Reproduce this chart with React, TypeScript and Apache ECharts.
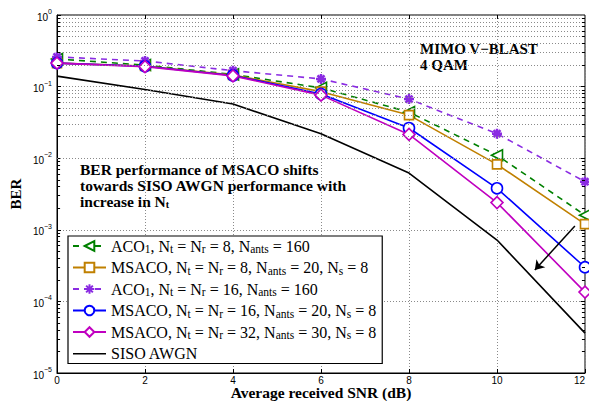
import React, { useEffect, useRef } from "react";
import * as echarts from "echarts";

const snr = [0, 2, 4, 6, 8, 10, 12];
const aco8 = [0.243, 0.2, 0.148, 0.096, 0.044, 0.011, 0.0016];
const msaco8 = [0.213, 0.194, 0.145, 0.085, 0.04, 0.0082, 0.0012];
const aco16 = [0.26, 0.228, 0.167, 0.128, 0.067, 0.022, 0.0047];
const msaco16 = [0.213, 0.192, 0.143, 0.079, 0.0264, 0.0038, 0.0003];
const msaco32 = [0.213, 0.19, 0.141, 0.076, 0.0215, 0.0024, 0.000135];
const siso = [0.14, 0.091, 0.057, 0.022, 0.0062, 0.00072, 0.000036];
const minorFactors = [2, 3, 4, 5, 6, 7, 8, 9];
const decades = [-5, -4, -3, -2, -1];

const names = ["aco8", "msaco8", "aco16", "msaco16", "msaco32", "siso"];
const legendRich: Record<string, string> = {
  aco8: "{t|ACO}{s|1}{t|, N}{s|t}{t| = N}{s|r}{t| = 8, N}{s|ants}{t| = 160}",
  msaco8: "{t|MSACO, N}{s|t}{t| = N}{s|r}{t| = 8, N}{s|ants}{t| = 20, N}{s|s}{t| = 8}",
  aco16: "{t|ACO}{s|1}{t|, N}{s|t}{t| = N}{s|r}{t| = 16, N}{s|ants}{t| = 160}",
  msaco16: "{t|MSACO, N}{s|t}{t| = N}{s|r}{t| = 16, N}{s|ants}{t| = 20, N}{s|s}{t| = 8}",
  msaco32: "{t|MSACO, N}{s|t}{t| = N}{s|r}{t| = 32, N}{s|ants}{t| = 30, N}{s|s}{t| = 8}",
  siso: "{t|SISO AWGN}",
};

const starPath = "path://M0,-10L0,10M-10,0L10,0M-7,-7L7,7M-7,7L7,-7";
const lineIcon = "path://M0,0h0.01v0.01h-0.01zM0,5h40v1.6h-40zM39.99,10.99h0.01v0.01h-0.01z";

export default function App() {
  const ref = useRef<HTMLDivElement>(null);
  useEffect(() => {
    const chart = echarts.init(ref.current!, null, { renderer: "svg" });
    const pairs = (arr: number[]) => snr.map((x, i) => [x, arr[i]]);
    const minorLines: any[] = [];
    const edgeTicks: any[] = [];
    for (const e of decades) {
      for (const f of minorFactors) {
        const v = f * Math.pow(10, e);
        minorLines.push({ yAxis: v });
        edgeTicks.push([{ coord: [0, v] }, { coord: [0.07, v] }]);
        edgeTicks.push([{ coord: [11.93, v] }, { coord: [12, v] }]);
      }
    }
    for (const e of [-4, -3, -2, -1]) {
      const v = Math.pow(10, e);
      edgeTicks.push([{ coord: [11.9, v] }, { coord: [12, v] }]);
    }
    for (const x of [2, 4, 6, 8, 10]) {
      edgeTicks.push([{ coord: [x, 1] }, { coord: [x, 0.88] }]);
    }
    const gridStyle = { color: "#8a8a8a", type: [1, 2] as any, width: 1 };
    const mk = (name: string, data: number[], color: string, dashed: boolean, symbol: string, size: number, extra: any = {}) => ({
      name,
      type: "line",
      data: pairs(data),
      symbol,
      symbolSize: size,
      showSymbol: symbol !== "none",
      lineStyle: { color, width: 1.6, type: dashed ? [6, 5] : "solid" },
      itemStyle: { color: "#fff", borderColor: color, borderWidth: 1.6 },
      z: 3,
      ...extra,
    });
    chart.setOption({
      animation: false,
      grid: {
        left: 57,
        right: 4,
        top: 15,
        bottom: 28,
        show: true,
        borderColor: "#000",
        borderWidth: 1,
        containLabel: false,
        outerBoundsMode: "none",
      },
      xAxis: {
        type: "value",
        min: 0,
        max: 12,
        interval: 2,
        axisLine: { lineStyle: { color: "#000" } },
        axisTick: { inside: true, length: 4, lineStyle: { color: "#000" } },
        axisLabel: { color: "#000", fontFamily: "Liberation Sans", fontSize: 10, margin: 2, alignMaxLabel: "right" },
        splitLine: { show: true, lineStyle: gridStyle },
        name: "Average received SNR (dB)",
        nameLocation: "middle",
        nameGap: 11,
        nameMoveOverlap: false,
        nameTextStyle: { color: "#000", fontFamily: "Liberation Serif", fontWeight: "bold", fontSize: 15.5, lineHeight: 17 },
      },
      yAxis: {
        type: "log",
        logBase: 10,
        min: 1e-5,
        max: 1,
        axisLine: { lineStyle: { color: "#000" } },
        axisTick: { inside: true, length: 4, lineStyle: { color: "#000" } },
        axisLabel: {
          color: "#000",
          margin: 5,
          formatter: (v: number) => {
            const e = Math.round(Math.log10(v));
            return "{b|10}{p|" + (e === 0 ? "0" : "\u2212" + String(-e)) + "}";
          },
          rich: {
            b: { fontFamily: "Liberation Sans", fontSize: 10, lineHeight: 14, verticalAlign: "bottom", color: "#000" },
            p: { fontFamily: "Liberation Sans", fontSize: 7, lineHeight: 7, verticalAlign: "top", color: "#000" },
          },
        },
        splitLine: { show: true, lineStyle: gridStyle },
        name: "BER",
        nameLocation: "middle",
        nameGap: 34,
        nameMoveOverlap: false,
        nameTextStyle: { color: "#000", fontFamily: "Liberation Serif", fontWeight: "bold", fontSize: 15 },
      },
      legend: {
        orient: "vertical",
        left: 68,
        top: 236,
        data: names.map((n) =>
          n === "siso" ? { name: n, icon: lineIcon, itemStyle: { color: "#000", borderWidth: 0 } } : { name: n }
        ),
        backgroundColor: "#fff",
        borderColor: "#000",
        borderWidth: 1.2,
        padding: [2, 6, 2, 4],
        itemGap: 4.5,
        itemWidth: 33,
        itemHeight: 12,
        formatter: (n: string) => legendRich[n],
        textStyle: {
          color: "#000",
          rich: {
            t: { fontFamily: "Liberation Serif", fontSize: 16, lineHeight: 18, color: "#000" },
            s: { fontFamily: "Liberation Serif", fontSize: 11.5, lineHeight: 8, verticalAlign: "bottom", color: "#000" },
          },
        },
      },
      series: [
        mk("aco8", aco8, "#008000", true, "triangle", 11, { symbolRotate: 90 }),
        mk("msaco8", msaco8, "#c08000", false, "rect", 9),
        mk("aco16", aco16, "#8a2be2", true, starPath, 10, { itemStyle: { color: "none", borderColor: "#8a2be2", borderWidth: 2.5 } }),
        mk("msaco16", msaco16, "#0000ff", false, "circle", 11),
        mk("msaco32", msaco32, "#c000c0", false, "diamond", 12),
        {
          ...mk("siso", siso, "#000000", false, "none", 0),
          itemStyle: { color: "#000" },
          markLine: {
            silent: true,
            symbol: ["none", "none"],
            label: { show: false },
            lineStyle: { color: "#8a8a8a", type: [1, 2], width: 1 },
            data: minorLines,
          },
        },
        {
          type: "line",
          data: [],
          silent: true,
          markLine: {
            silent: true,
            symbol: ["none", "none"],
            label: { show: false },
            lineStyle: { color: "#000", type: "solid", width: 1 },
            data: edgeTicks,
          },
        },
        {
          type: "line",
          data: [],
          silent: true,
          markLine: {
            silent: true,
            symbol: ["none", "arrow"],
            symbolSize: 9,
            label: { show: false },
            lineStyle: { color: "#000", type: "solid", width: 1.5 },
            data: [[{ coord: [11.77, 0.00113] }, { coord: [10.86, 0.000275] }]],
          },
        },
      ],
      graphic: [
        {
          type: "text",
          left: 420,
          top: 41,
          style: {
            text: "MIMO V\u2212BLAST\n4 QAM",
            fontFamily: "Liberation Serif",
            fontWeight: "bold",
            fontSize: 15,
            lineHeight: 16,
            fill: "#000",
          },
        },
        {
          type: "text",
          left: 80,
          top: 161,
          style: {
            text: "{t|BER performance of MSACO shifts}\n{t|towards SISO AWGN performance with}\n{t|increase in N}{s|t}",
            rich: {
              t: { fontFamily: "Liberation Serif", fontWeight: "bold", fontSize: 15.5, lineHeight: 16, fill: "#000" },
              s: { fontFamily: "Liberation Serif", fontWeight: "bold", fontSize: 10, lineHeight: 8, verticalAlign: "bottom", fill: "#000" },
            },
          },
        },
      ],
    });
    return () => chart.dispose();
  }, []);
  return <div ref={ref} style={{ position: "fixed", left: 0, top: 0, width: 589, height: 401, background: "#fff" }} />;
}
